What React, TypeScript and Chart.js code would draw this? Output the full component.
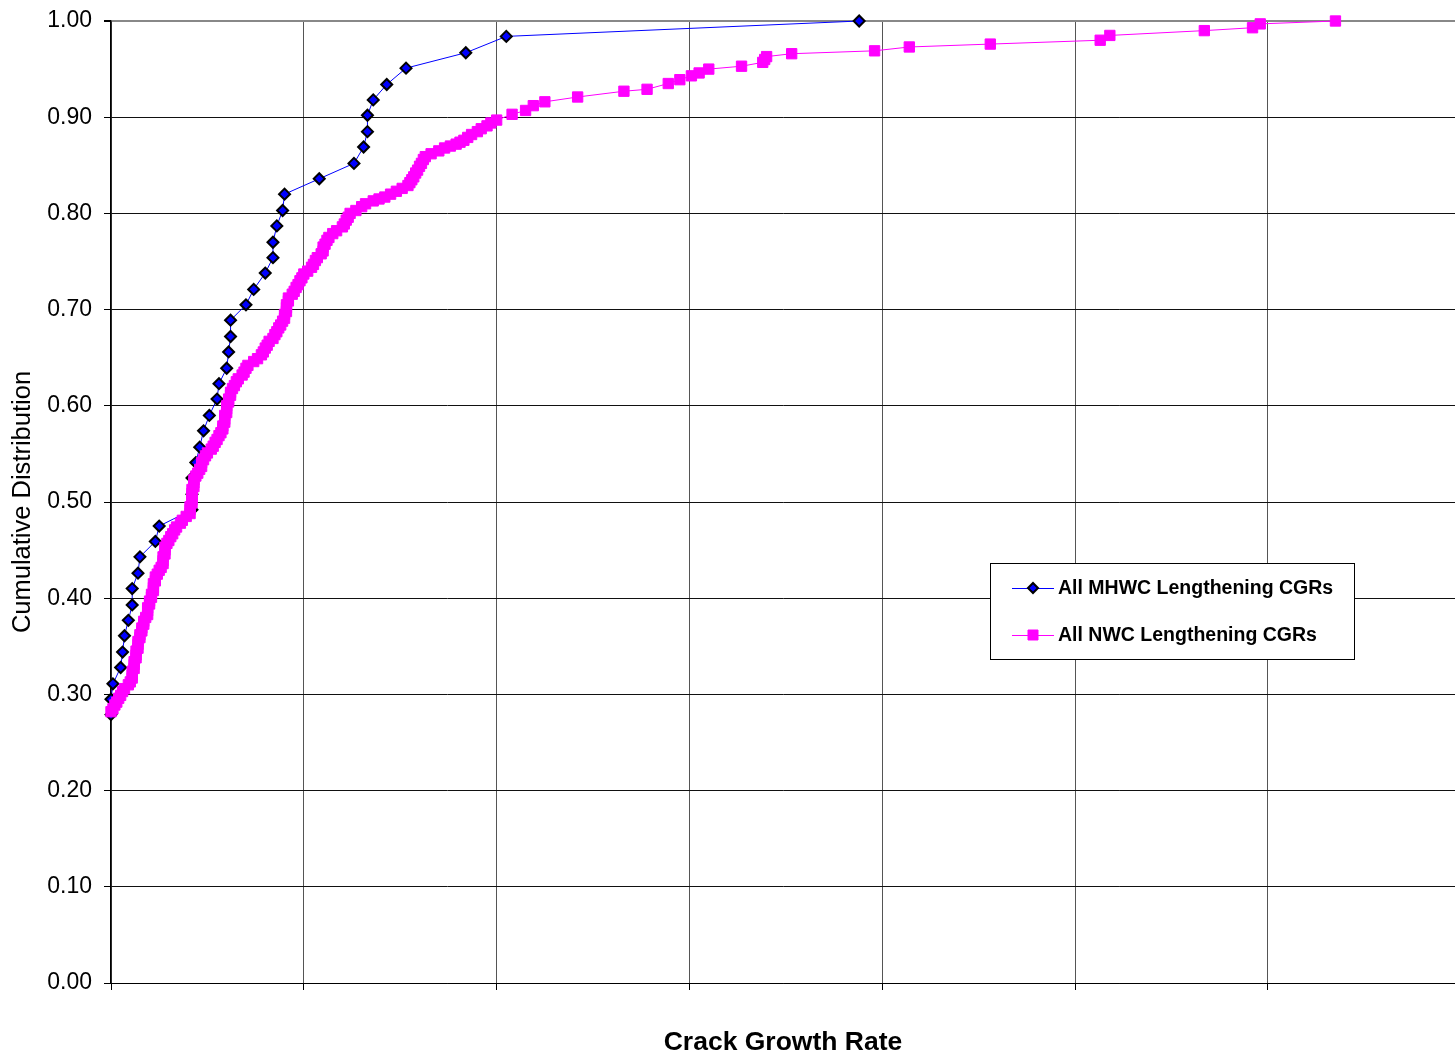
import React, { useEffect, useRef } from "react";
import { Chart, registerables } from "chart.js";

Chart.register(...registerables);

// ---- Data (x in grid units of crack growth rate, y = cumulative fraction) ----
const mhwcLabel = "All MHWC Lengthening CGRs";
const nwcLabel = "All NWC Lengthening CGRs";

const mhwcX = [
  0.0, 0.0, 0.01, 0.05, 0.06, 0.07, 0.09, 0.11, 0.11, 0.14, 0.15, 0.23, 0.25,
  0.42, 0.42, 0.42, 0.44, 0.46, 0.48, 0.51, 0.55, 0.56, 0.6, 0.61, 0.62, 0.62,
  0.7, 0.74, 0.8, 0.84, 0.84, 0.86, 0.89, 0.9, 1.08, 1.26, 1.31, 1.33, 1.33,
  1.36, 1.43, 1.53, 1.84, 2.05, 3.88,
];
const mhwcY = [
  0.279, 0.295, 0.311, 0.328, 0.344, 0.361, 0.377, 0.393, 0.41, 0.426, 0.443,
  0.459, 0.475, 0.492, 0.508, 0.525, 0.541, 0.557, 0.574, 0.59, 0.607, 0.623,
  0.639, 0.656, 0.672, 0.689, 0.705, 0.721, 0.738, 0.754, 0.77, 0.787, 0.803,
  0.82, 0.836, 0.852, 0.869, 0.885, 0.902, 0.918, 0.934, 0.951, 0.967, 0.984,
  1.0,
];

const nwcX = [
  0.0, 0.01, 0.02, 0.03, 0.04, 0.05, 0.06, 0.07, 0.09, 0.1, 0.11,
  0.11, 0.11, 0.12, 0.12, 0.12, 0.13, 0.13, 0.13, 0.14, 0.14,
  0.14, 0.15, 0.15, 0.16, 0.16, 0.17, 0.17, 0.18, 0.19, 0.19,
  0.19, 0.2, 0.2, 0.21, 0.21, 0.22, 0.22, 0.22, 0.23, 0.23,
  0.24, 0.25, 0.26, 0.27, 0.27, 0.27, 0.28, 0.28, 0.28, 0.29,
  0.3, 0.31, 0.32, 0.33, 0.34, 0.36, 0.37, 0.39, 0.41,
  0.41, 0.41, 0.42, 0.42, 0.42, 0.42, 0.42, 0.43, 0.43, 0.43,
  0.44, 0.45, 0.46, 0.47, 0.47, 0.48, 0.49, 0.5, 0.52, 0.53, 0.54,
  0.55, 0.56, 0.57, 0.58, 0.58, 0.59, 0.59, 0.59, 0.6, 0.6,
  0.6, 0.61, 0.61, 0.62, 0.62, 0.63, 0.64, 0.65, 0.66,
  0.68, 0.69, 0.7, 0.71, 0.74, 0.76, 0.78, 0.79, 0.8, 0.81, 0.82,
  0.84, 0.85, 0.86, 0.87, 0.88, 0.89, 0.9, 0.9, 0.91, 0.91, 0.91, 0.92, 0.92,
  0.94, 0.95, 0.96, 0.97, 0.98, 0.99, 1.0, 1.02, 1.04, 1.05,
  1.06, 1.07, 1.09, 1.1, 1.1, 1.11, 1.12, 1.13, 1.15, 1.17, 1.2,
  1.21, 1.22, 1.23, 1.24, 1.27, 1.3, 1.32, 1.36, 1.39, 1.42, 1.45,
  1.48, 1.51, 1.54, 1.55, 1.56, 1.57, 1.58, 1.59, 1.6, 1.61, 1.62, 1.63,
  1.66, 1.7, 1.73, 1.76, 1.79, 1.81, 1.83, 1.85, 1.87, 1.9, 1.92,
  1.95, 1.97, 2.0,
  2.08, 2.15, 2.19, 2.25, 2.42, 2.66, 2.78, 2.89, 2.95, 3.01, 3.05, 3.1,
  3.27, 3.38, 3.39, 3.4, 3.53, 3.96, 4.14, 4.56, 5.13, 5.18, 5.67, 5.92,
  5.96, 6.35,
];
const nwcY = [
  0.282, 0.285, 0.289, 0.292, 0.296, 0.299, 0.303, 0.306, 0.31, 0.313, 0.317,
  0.32, 0.324, 0.327, 0.331, 0.334, 0.338, 0.341, 0.345, 0.348, 0.352,
  0.355, 0.359, 0.362, 0.366, 0.369, 0.373, 0.376, 0.38, 0.383, 0.387,
  0.39, 0.394, 0.397, 0.401, 0.404, 0.408, 0.411, 0.415, 0.418, 0.422,
  0.425, 0.429, 0.432, 0.436, 0.439, 0.443, 0.446, 0.45, 0.453, 0.457,
  0.46, 0.464, 0.467, 0.471, 0.474, 0.478, 0.481, 0.485, 0.488,
  0.492, 0.495, 0.499, 0.502, 0.506, 0.509, 0.513, 0.516, 0.52, 0.523,
  0.527, 0.53, 0.534, 0.537, 0.541, 0.544, 0.548, 0.551, 0.555, 0.558, 0.562,
  0.565, 0.569, 0.572, 0.576, 0.579, 0.583, 0.586, 0.59, 0.593, 0.597,
  0.6, 0.604, 0.607, 0.611, 0.614, 0.618, 0.621, 0.625, 0.628,
  0.632, 0.635, 0.639, 0.642, 0.646, 0.649, 0.653, 0.656, 0.66, 0.663, 0.667,
  0.67, 0.674, 0.677, 0.681, 0.684, 0.688, 0.691, 0.695, 0.698, 0.702, 0.705, 0.709, 0.712,
  0.716, 0.719, 0.723, 0.726, 0.73, 0.733, 0.737, 0.74, 0.744, 0.747,
  0.751, 0.754, 0.758, 0.761, 0.765, 0.768, 0.772, 0.775, 0.779, 0.782, 0.786,
  0.789, 0.793, 0.796, 0.8, 0.803, 0.807, 0.81, 0.813, 0.815, 0.817, 0.82,
  0.823, 0.826, 0.829, 0.832, 0.835, 0.838, 0.842, 0.845, 0.849, 0.852, 0.856, 0.859,
  0.862, 0.865, 0.868, 0.87, 0.872, 0.874, 0.876, 0.879, 0.882, 0.885, 0.888,
  0.891, 0.894, 0.897,
  0.903, 0.907, 0.912, 0.916, 0.921, 0.927, 0.929, 0.935, 0.939, 0.943, 0.946, 0.95,
  0.953, 0.957, 0.96, 0.963, 0.966, 0.969, 0.973, 0.976, 0.98, 0.985, 0.99, 0.993,
  0.997, 1.0,
];

const yTickValues = [0, 0.1, 0.2, 0.3, 0.4, 0.5, 0.6, 0.7, 0.8, 0.9, 1.0];
const xAxisTitle = "Crack Growth Rate";
const yAxisTitle = "Cumulative Distribution";

const FONT = '"Liberation Sans", Arial, Helvetica, sans-serif';

const toPoints = (xs: number[], ys: number[]) =>
  xs.map((x, i) => ({ x, y: ys[i] }));

const boxLegend = {
  id: "boxLegend",
  afterDraw(chart: any) {
    const ctx = chart.ctx as CanvasRenderingContext2D;
    const bx = 990, by = 563, bw = 364, bh = 96;
    ctx.save();
    ctx.fillStyle = "#ffffff";
    ctx.fillRect(bx, by, bw, bh);
    ctx.strokeStyle = "#000000";
    ctx.lineWidth = 1;
    ctx.strokeRect(bx + 0.5, by + 0.5, bw, bh);
    const rows = [by + 25, by + 72];
    chart.data.datasets.forEach((ds: any, i: number) => {
      const y = rows[i];
      ctx.strokeStyle = ds.borderColor;
      ctx.lineWidth = 1;
      ctx.beginPath();
      ctx.moveTo(bx + 22, y + 0.5);
      ctx.lineTo(bx + 64, y + 0.5);
      ctx.stroke();
      const cx = bx + 43;
      ctx.fillStyle = ds.pointBackgroundColor;
      ctx.strokeStyle = ds.pointBorderColor;
      ctx.lineWidth = ds.pointBorderWidth;
      ctx.beginPath();
      if (ds.pointStyle === "rectRot") {
        const r = 5;
        ctx.moveTo(cx - r, y);
        ctx.lineTo(cx, y - r);
        ctx.lineTo(cx + r, y);
        ctx.lineTo(cx, y + r);
        ctx.closePath();
      } else {
        const s = 5;
        ctx.rect(cx - s, y - s, 2 * s, 2 * s);
      }
      ctx.fill();
      ctx.stroke();
      ctx.fillStyle = "#000000";
      ctx.font = `bold 19.5px ${FONT}`;
      ctx.textBaseline = "middle";
      ctx.textAlign = "left";
      ctx.fillText(ds.label, bx + 68, y + 1);
    });
    ctx.restore();
  },
};

export default function App() {
  const canvasRef = useRef<HTMLCanvasElement | null>(null);

  useEffect(() => {
    document.body.style.margin = "0";
    const canvas = canvasRef.current;
    if (!canvas) return;
    const chart = new Chart(canvas, {
      type: "scatter",
      data: {
        datasets: [
          {
            label: mhwcLabel,
            data: toPoints(mhwcX, mhwcY),
            showLine: true,
            borderColor: "#0000ff",
            borderWidth: 1,
            pointStyle: "rectRot",
            pointRadius: 5.5,
            pointHoverRadius: 5.5,
            pointBackgroundColor: "#0000ff",
            pointBorderColor: "#000000",
            pointBorderWidth: 2,
            order: 1,
            clip: false,
          } as any,
          {
            label: nwcLabel,
            data: toPoints(nwcX, nwcY),
            showLine: true,
            borderColor: "#ff00ff",
            borderWidth: 1,
            pointStyle: "rect",
            pointRadius: 7.3,
            pointHoverRadius: 7.3,
            pointBackgroundColor: "#ff00ff",
            pointBorderColor: "#ff00ff",
            pointBorderWidth: 1,
            order: 0,
            clip: false,
          } as any,
        ],
      },
      options: {
        responsive: false,
        animation: false,
        events: [],
        layout: {
          autoPadding: false,
          padding: { top: 21, right: 0, bottom: 0, left: 0 },
        },
        plugins: {
          legend: { display: false },
          tooltip: { enabled: false },
        },
        scales: {
          x: {
            type: "linear",
            min: 0,
            max: 6.97,
            ticks: { stepSize: 1, display: false },
            grid: {
              color: "#555555",
              lineWidth: 1,
              tickLength: 7,
              tickColor: "#000000",
              drawTicks: true,
            },
            border: { display: true, color: "#000000", width: 1 },
            title: {
              display: true,
              text: xAxisTitle,
              color: "#000000",
              font: { family: FONT, size: 26.5, weight: "bold", lineHeight: 1.0 },
              padding: { top: 0, bottom: 0 },
            },
            afterFit: (scale: any) => {
              scale.height = 73;
              scale.paddingLeft = 0;
              scale.paddingRight = 0;
            },
          },
          y: {
            type: "linear",
            min: 0,
            max: 1,
            afterBuildTicks: (scale: any) => {
              scale.ticks = yTickValues.map((v) => ({ value: v }));
            },
            ticks: {
              color: "#000000",
              font: { family: FONT, size: 23 },
              padding: 12,
              callback: (v: any) => Number(v).toFixed(2),
            },
            grid: {
              color: (c: any) =>
                c.tick && c.tick.value === 1 ? "#888888" : "#111111",
              lineWidth: (c: any) => (c.tick && c.tick.value === 1 ? 2 : 1),
              tickLength: 7,
              tickColor: "#000000",
            },
            border: { display: true, color: "#000000", width: 1.5 },
            title: {
              display: true,
              text: yAxisTitle,
              color: "#000000",
              font: { family: FONT, size: 25.5, lineHeight: 1.2 },
              padding: { top: 8, bottom: 0 },
            },
            afterFit: (scale: any) => {
              scale.width = 111;
              scale.paddingTop = 0;
              scale.paddingBottom = 0;
            },
          },
        },
      } as any,
      plugins: [boxLegend],
    });
    return () => chart.destroy();
  }, []);

  return (
    <div style={{ position: "absolute", left: 0, top: 0, width: 1455, height: 1056 }}>
      <canvas ref={canvasRef} width={1455} height={1056} />
    </div>
  );
}
